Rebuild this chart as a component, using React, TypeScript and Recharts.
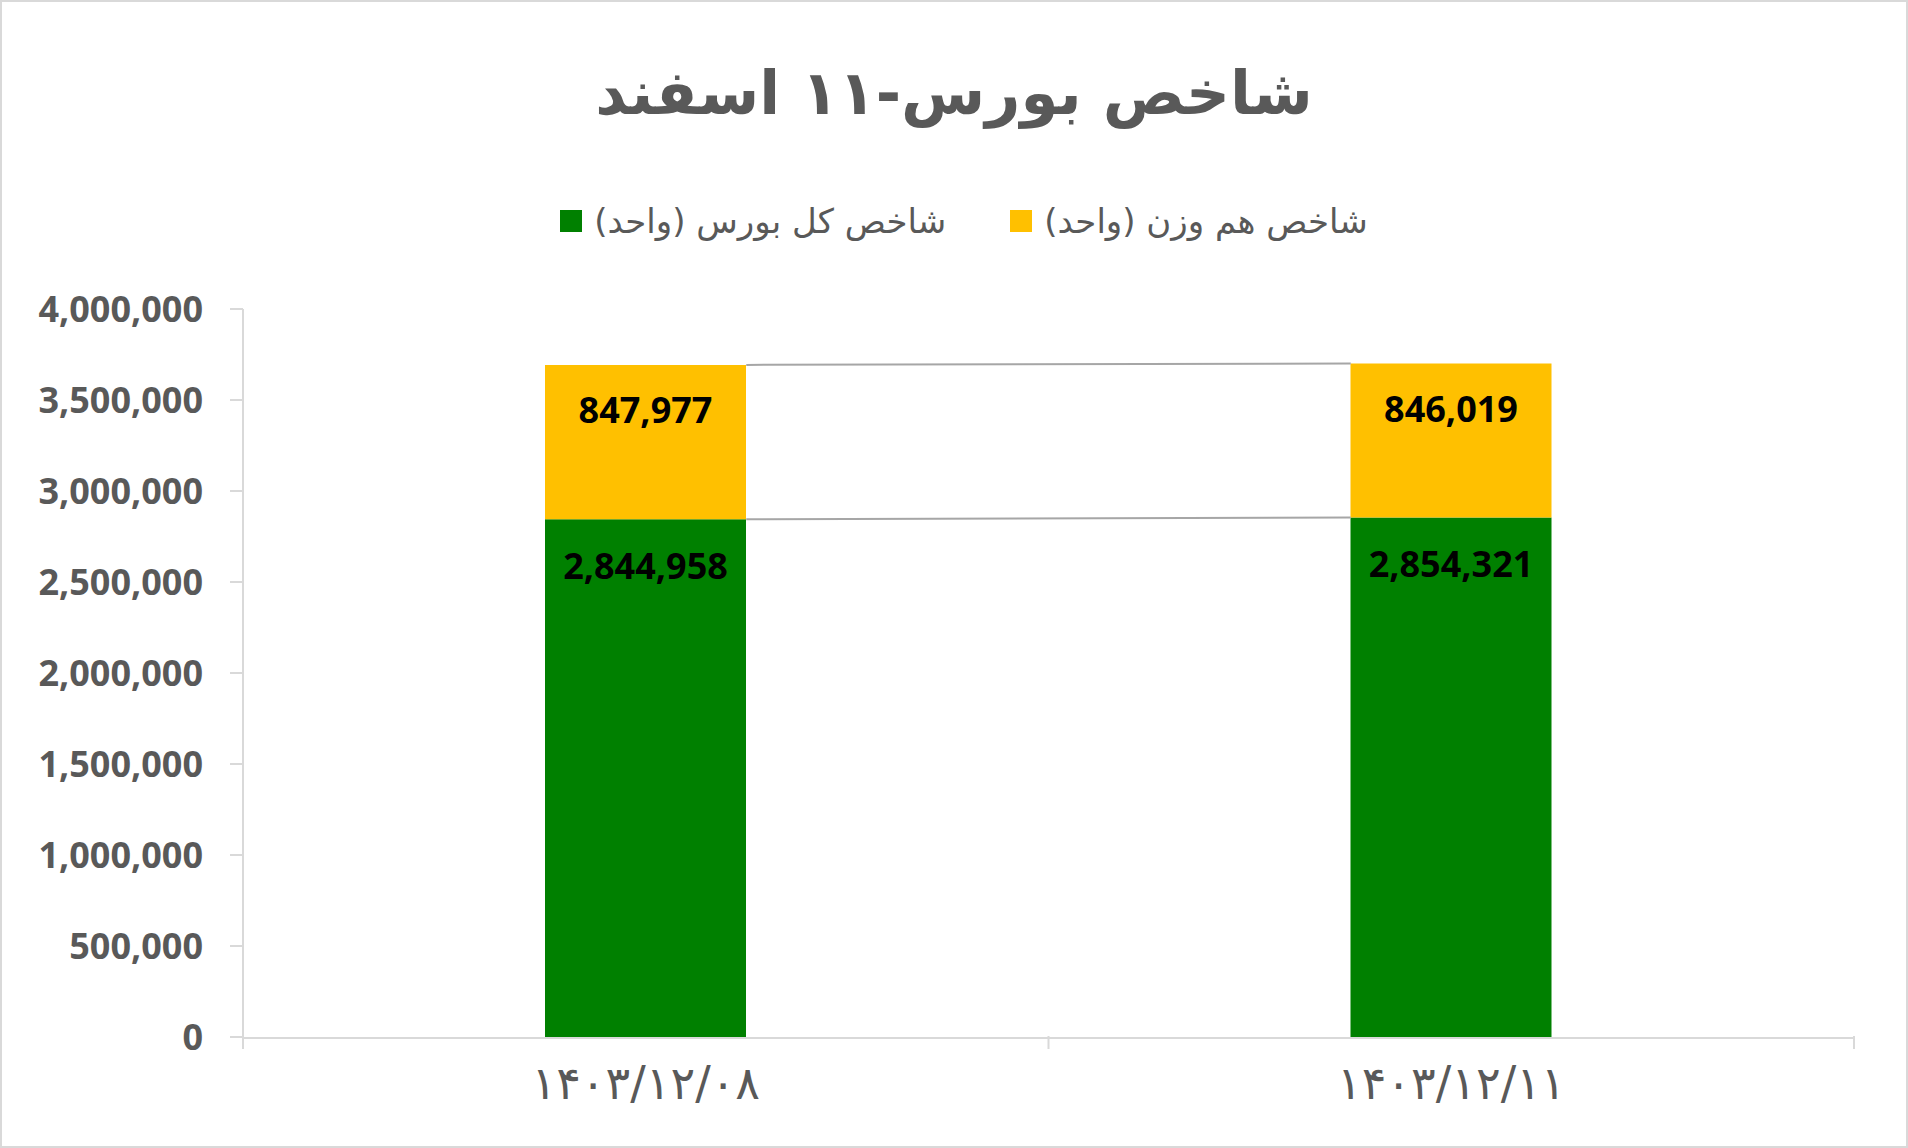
import { BarChart, Bar, XAxis, YAxis, LabelList, ReferenceLine } from "recharts";

const dates = ["۱۴۰۳/۱۲/۰۸", "۱۴۰۳/۱۲/۱۱"];
const totalIndex = [2844958, 2854321];
const equalWeightIndex = [847977, 846019];
const yTicks = [0, 500000, 1000000, 1500000, 2000000, 2500000, 3000000, 3500000, 4000000];
const edgeTicks = [0, 1, 2];

const titleText = "شاخص بورس-۱۱ اسفند";
const totalName = "شاخص کل بورس (واحد)";
const equalName = "شاخص هم وزن (واحد)";

const GREEN = "#008000";
const YELLOW = "#FFC000";
const AXIS = "#D9D9D9";
const TEXT = "#595959";
const BAR_W = 201;

const data = dates.map((d, i) => ({
  date: d,
  total: totalIndex[i],
  equal: equalWeightIndex[i],
  edge: i,
}));
const stackTops = totalIndex.map((v, i) => v + equalWeightIndex[i]);

const fmt = (v: number) => Number(v).toLocaleString("en-US");

// Excel-style series line: runs from the right edge of one bar to the left edge of the next
const seriesLine = (p: any) => (
  <line
    x1={p.x1 + BAR_W / 2}
    y1={p.y1}
    x2={p.x2 - BAR_W / 2}
    y2={p.y2}
    stroke="#A6A6A6"
    strokeWidth={2}
  />
);

// tick marks at category boundaries only, no text
const edgeTick = (p: any) => (
  <line x1={p.x} y1={p.y - 1} x2={p.x} y2={p.y + 12} stroke={AXIS} strokeWidth={2} />
);

const legendItems = [
  { name: totalName, color: GREEN },
  { name: equalName, color: YELLOW },
];

export default function App() {
  return (
    <div style={{ position: "absolute", left: 0, top: 0, width: 1908, height: 1148, background: "#fff" }}>
      <div
        dir="rtl"
        style={{
          position: "absolute",
          left: 0,
          top: 62,
          width: 1908,
          textAlign: "center",
          fontFamily: "DejaVu Sans",
          fontWeight: 700,
          fontSize: 61,
          lineHeight: 1,
          color: TEXT,
        }}
      >
        {titleText}
      </div>

      <div
        style={{
          position: "absolute",
          left: 0,
          top: 204,
          width: 1908,
          boxSizing: "border-box",
          paddingLeft: 20,
          display: "flex",
          justifyContent: "center",
          gap: 64,
          fontFamily: "DejaVu Sans",
          fontSize: 34,
          lineHeight: 1,
          color: TEXT,
        }}
      >
        {legendItems.map((it) => (
          <div key={it.name} style={{ display: "flex", alignItems: "center", gap: 12 }}>
            <span style={{ width: 22, height: 22, background: it.color, display: "inline-block" }} />
            <span dir="rtl">{it.name}</span>
          </div>
        ))}
      </div>

      <div style={{ position: "absolute", left: 0, top: 0 }}>
        <BarChart
          width={1908}
          height={1148}
          data={data}
          margin={{ top: 309, right: 54, bottom: 109, left: 0 }}
          barSize={BAR_W}
        >
          <XAxis
            xAxisId="main"
            dataKey="date"
            height={1}
            axisLine={{ stroke: AXIS, strokeWidth: 2 }}
            tickLine={false}
            tickSize={0}
            tickMargin={28}
            tick={{ fill: TEXT, fontSize: 46, fontFamily: "DejaVu Sans" }}
          />
          <XAxis
            xAxisId="edges"
            dataKey="edge"
            type="number"
            domain={[0, 2]}
            ticks={edgeTicks}
            allowDataOverflow
            height={1}
            axisLine={false}
            tickLine={false}
            tickSize={0}
            tickMargin={0}
            tick={edgeTick}
          />
          <YAxis
            width={243}
            domain={[0, 4000000]}
            ticks={yTicks}
            tickFormatter={fmt}
            axisLine={{ stroke: AXIS, strokeWidth: 2 }}
            tickLine={{ stroke: AXIS, strokeWidth: 2 }}
            tickSize={13}
            tickMargin={27}
            tick={{ fill: TEXT, fontSize: 36, fontFamily: "Open Sans", fontWeight: 700 }}
          />
          <Bar xAxisId="main" dataKey="total" name={totalName} stackId="s" fill={GREEN} isAnimationActive={false}>
            <LabelList
              dataKey="total"
              position="insideTop"
              offset={34}
              formatter={fmt}
              fill="#000"
              fontSize={36}
              fontWeight={700}
              fontFamily="Open Sans"
            />
          </Bar>
          <Bar xAxisId="main" dataKey="equal" name={equalName} stackId="s" fill={YELLOW} isAnimationActive={false}>
            <LabelList
              dataKey="equal"
              position="insideTop"
              offset={33}
              formatter={fmt}
              fill="#000"
              fontSize={36}
              fontWeight={700}
              fontFamily="Open Sans"
            />
          </Bar>
          <ReferenceLine
            xAxisId="main"
            segment={[
              { x: dates[0], y: stackTops[0] },
              { x: dates[1], y: stackTops[1] },
            ]}
            shape={seriesLine}
          />
          <ReferenceLine
            xAxisId="main"
            segment={[
              { x: dates[0], y: totalIndex[0] },
              { x: dates[1], y: totalIndex[1] },
            ]}
            shape={seriesLine}
          />
        </BarChart>
      </div>

      <div
        style={{
          position: "absolute",
          left: 0,
          top: 0,
          width: 1908,
          height: 1148,
          boxSizing: "border-box",
          border: `2px solid ${AXIS}`,
          pointerEvents: "none",
        }}
      />
    </div>
  );
}
